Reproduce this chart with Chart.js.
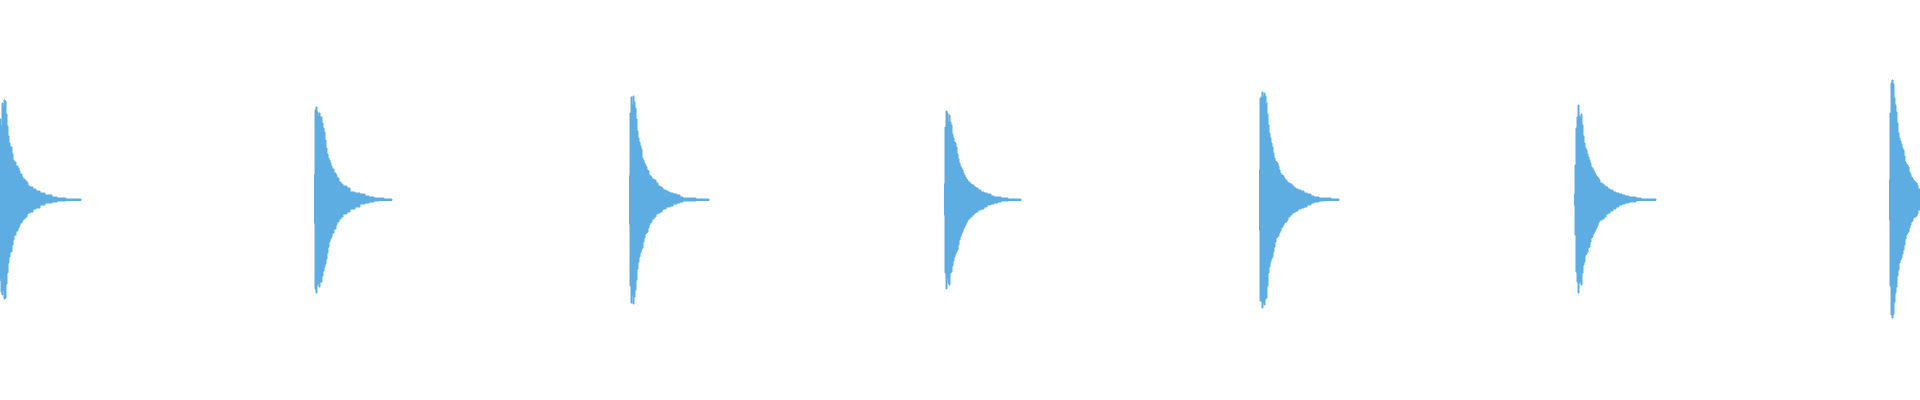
<!DOCTYPE html>
<html>
<head>
<meta charset="utf-8">
<title>waveform</title>
<script src="https://cdn.jsdelivr.net/npm/chart.js@4/dist/chart.umd.min.js"></script>
<style>
  html, body { margin: 0; padding: 0; background: #fff; }
  #wrap { width: 1920px; height: 400px; position: relative; }
</style>
</head>
<body>
<div id="wrap"><canvas id="wave"></canvas></div>
<script>
'use strict'

// onset of each pluck (ms)
const onsets = [0, 314, 629, 944, 1259, 1574, 1889]

// time after onset (ms) and envelope in % of full scale, per pluck
const pluck1Offsets = [0, 1, 2, 3, 4, 5, 6, 7, 8, 9, 10, 12, 13, 14, 16, 18, 19, 20, 22, 23, 25, 27, 28, 30, 33, 36, 40, 45, 52, 57, 66, 71, 81]
const pluck1Upper = [40.5, 37, 48.5, 46.5, 50, 49.5, 43, 37, 32, 28.5, 26.5, 23, 20, 19, 17, 16, 14.5, 13, 11.5, 10.5, 9.5, 8.5, 7, 6.5, 5.5, 4.5, 3.5, 2.5, 1.5, 1, 0.5, 0.5, 0]
const pluck1Lower = [-40, -46, -47.5, -45, -49.5, -49, -42, -36.5, -31.5, -28.5, -26, -22.5, -20, -17.5, -15.5, -14, -13, -11.5, -10.5, -9.5, -8.5, -7, -6.5, -6, -4.5, -4, -2.5, -1.5, -1, -0.5, -0.25, -0.25, 0]

const pluck2Offsets = [0, 1, 2, 3, 4, 5, 6, 8, 9, 10, 11, 12, 13, 14, 15, 16, 17, 18, 20, 22, 23, 25, 27, 29, 33, 36, 41, 46, 51, 55, 60, 65, 70, 78]
const pluck2Upper = [12.5, 45, 46.5, 44, 42, 43.5, 41.5, 38.5, 36, 34, 30, 26, 23, 21, 20, 18.5, 17, 15.5, 13.5, 12.5, 11, 9, 8, 7, 6, 4, 3.5, 3, 2, 1.5, 1, 1, 0.5, 0]
const pluck2Lower = [-11.5, -44.5, -46.5, -42.5, -41.5, -43.5, -41, -38, -35.5, -33.5, -32, -29.5, -26.5, -23.5, -21, -19.5, -18.5, -16.5, -14.5, -12.5, -11, -9.5, -8.5, -7, -6, -4.5, -3.5, -2, -1.5, -1, -0.5, -0.25, -0.25, 0]

const pluck3Offsets = [0, 1, 2, 3, 4, 5, 6, 7, 8, 9, 10, 11, 12, 13, 14, 15, 16, 17, 18, 19, 20, 21, 22, 23, 25, 27, 29, 31, 33, 34, 37, 39, 41, 44, 48, 51, 54, 67, 80]
const pluck3Upper = [12, 43.5, 51.5, 47.5, 52, 49, 46, 40.5, 34.5, 31, 29, 27, 25.5, 21, 20, 18.5, 17.5, 16.5, 15, 14.5, 12.5, 12, 11.5, 10.5, 10, 8.5, 7, 6.5, 6, 5, 4.5, 4, 3.5, 3, 2.5, 1.5, 1, 0.5, 0]
const pluck3Lower = [-12, -43, -51.5, -47.5, -52, -48.5, -45, -40, -34.5, -31, -28.5, -26.5, -25, -24, -21, -19, -17, -16.5, -16, -14, -12.5, -11.5, -11, -9.5, -8.5, -7, -6.5, -6, -5, -4.5, -3.5, -3.5, -3, -2, -1.5, -1, -0.5, -0.25, 0]

const pluck4Offsets = [0, 1, 2, 3, 4, 5, 6, 7, 8, 9, 10, 11, 12, 13, 14, 15, 16, 17, 18, 19, 20, 21, 22, 23, 24, 26, 28, 30, 32, 34, 37, 40, 43, 47, 50, 54, 57, 64, 77]
const pluck4Upper = [8, 36.5, 44.5, 43.5, 39, 42.5, 39, 37.5, 33, 31, 29, 28.5, 26.5, 23, 20.5, 18.5, 17, 16, 15, 13.5, 12.5, 11.5, 10.5, 10, 9, 8, 7.5, 6.5, 6, 5, 4, 3.5, 3, 2, 1.5, 1.5, 1, 0.5, 0]
const pluck4Lower = [-7.5, -36.5, -44.5, -39, -41.5, -42.5, -36.5, -36, -33, -30.5, -28.5, -27, -26, -25, -22.5, -20, -18.5, -17, -16, -14.5, -13.5, -12.5, -11.5, -10.5, -9.5, -8.5, -7.5, -6.5, -6, -5, -4.5, -3.5, -2.5, -2, -1.5, -1, -0.5, -0.25, 0]

const pluck5Offsets = [0, 1, 2, 3, 4, 5, 6, 7, 8, 9, 10, 11, 12, 13, 14, 15, 16, 17, 18, 19, 20, 21, 22, 23, 24, 25, 26, 28, 29, 31, 33, 35, 37, 39, 42, 45, 48, 52, 55, 60, 65, 72, 80]
const pluck5Upper = [15, 51, 51.5, 54, 51.5, 53.5, 52, 48.5, 43, 37.5, 33.5, 31, 28.5, 26.5, 23.5, 21, 19.5, 19, 18.5, 17, 15, 13.5, 12.5, 12.5, 12, 11, 10, 9, 8.5, 8, 7, 6, 5.5, 5, 4.5, 3.5, 3, 2, 1.5, 1, 1, 0.5, 0]
const pluck5Lower = [-15, -50.5, -50.5, -54, -51.5, -52.5, -49.5, -49, -43, -36.5, -33.5, -31, -29.5, -28.5, -26, -23.5, -21, -19, -18.5, -18, -16.5, -15.5, -14, -13.5, -12.5, -11.5, -11, -10, -8.5, -7.5, -6.5, -6, -5.5, -4.5, -4, -3.5, -2.5, -1.5, -1, -0.5, -0.25, -0.25, 0]

const pluck6Offsets = [0, 1, 2, 3, 4, 5, 6, 7, 8, 9, 10, 11, 12, 13, 14, 15, 16, 17, 18, 19, 20, 21, 22, 23, 24, 25, 26, 28, 30, 32, 34, 36, 39, 42, 45, 48, 51, 55, 62, 67, 82]
const pluck6Upper = [3, 17.5, 36, 41.5, 47.5, 42, 41, 43, 37.5, 32, 28.5, 26, 25, 23, 21.5, 20, 18.5, 16.5, 16, 15, 14, 13, 12, 11.5, 11, 10, 8.5, 8, 7, 6.5, 5.5, 5, 4, 3.5, 3, 2.5, 2, 1.5, 1, 0.5, 0]
const pluck6Lower = [-2.5, -17.5, -36, -41, -46.5, -41.5, -41, -42.5, -36.5, -32.5, -31, -27.5, -27, -26, -24, -23.5, -21, -19, -18.5, -17, -16, -15, -14, -13, -11.5, -10.5, -10, -9.5, -8.5, -7, -6.5, -5.5, -4.5, -3.5, -2.5, -2, -1.5, -1, -0.25, -0.25, 0]

// last pluck is cut off by the right edge
const pluck7Offsets = [0, 1, 2, 3, 4, 5, 6, 7, 8, 9, 10, 11, 12, 13, 14, 15, 16, 17, 18, 19, 20, 21, 22, 23, 24, 25, 26, 27, 28, 29, 30, 31]
const pluck7Upper = [10, 43.5, 58.5, 60, 58, 51, 47.5, 44, 38.5, 33.5, 31, 29.5, 28, 26, 25, 22, 19, 18, 17.5, 16.5, 14, 13, 11.5, 11, 10, 9.5, 9, 8.5, 7.5, 5.5, 5.5, 5.5]
const pluck7Lower = [-10, -43, -57.5, -59, -57, -51, -46.5, -43.5, -38, -35, -31.5, -30, -29, -27, -25, -22.5, -19.5, -17.5, -16.5, -16, -14, -12.5, -11, -10.5, -9, -8.5, -8.5, -8, -7, -5, -5, -5]

const plucks = [
  [pluck1Offsets, pluck1Upper, pluck1Lower],
  [pluck2Offsets, pluck2Upper, pluck2Lower],
  [pluck3Offsets, pluck3Upper, pluck3Lower],
  [pluck4Offsets, pluck4Upper, pluck4Lower],
  [pluck5Offsets, pluck5Upper, pluck5Lower],
  [pluck6Offsets, pluck6Upper, pluck6Lower],
  [pluck7Offsets, pluck7Upper, pluck7Lower]
]

const waveColor = '#5dade2'

const toPoints = (start, offsets, values) => {
  return offsets.map(function (off, i) {
    return { x: start + off, y: values[i] }
  })
}

// each half of the envelope is filled to the zero line
const datasets = []
plucks.forEach(function (pluck, i) {
  const [offsets, upper, lower] = pluck
  const half = (values) => ({
    data: toPoints(onsets[i], offsets, values),
    stepped: true,
    fill: 'origin',
    borderColor: waveColor,
    backgroundColor: waveColor,
    borderWidth: 1,
    pointRadius: 0
  })
  datasets.push(half(upper))
  datasets.push(half(lower))
})

const ctx = document.getElementById('wave')
const waveChart = new Chart(ctx, {
  type: 'line',
  data: { datasets: datasets },
  options: {
    responsive: true,
    maintainAspectRatio: false,
    animation: false,
    layout: { padding: 0 },
    plugins: {
      legend: { display: false },
      tooltip: { enabled: false }
    },
    scales: {
      x: { type: 'linear', min: 0, max: 1920, display: false },
      y: { min: -100, max: 100, display: false }
    }
  }
})
</script>
</body>
</html>
